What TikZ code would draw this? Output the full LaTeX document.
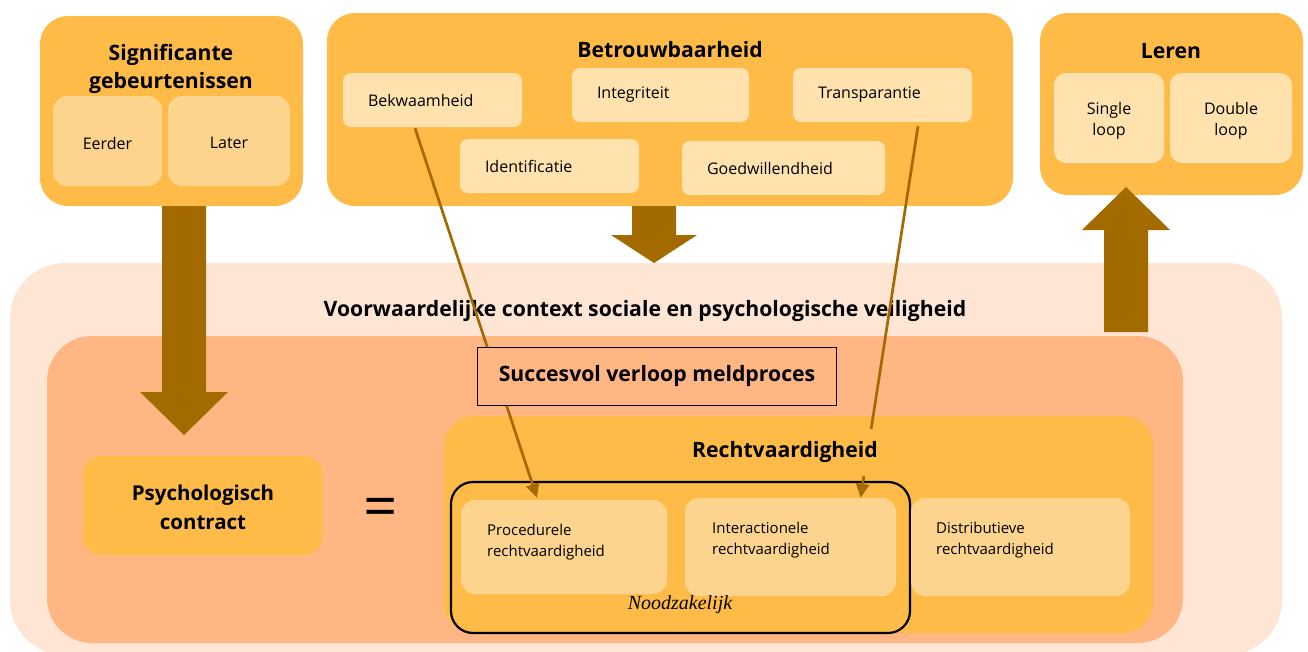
\documentclass[tikz,border=0pt]{standalone}
\usepackage{fontspec}
\setmainfont{Open Sans}
\newfontfamily\serifit{Liberation Serif}
\usetikzlibrary{arrows.meta,calc}
\definecolor{mainor}{HTML}{FEBB48}
\definecolor{subdark}{HTML}{FDD48E}
\definecolor{sublight}{HTML}{FFE2AD}
\definecolor{peach}{HTML}{FFE5D4}
\definecolor{salmon}{HTML}{FFB682}
\definecolor{brownar}{HTML}{A36A00}
\tikzset{
  bigbox/.style={fill=mainor, rounded corners=28pt, inner sep=0pt},
  ttl/.style={font=\fontsize{21.2}{28.5}\selectfont\bfseries, align=center, inner sep=0pt},
  smalltxt/.style={font=\fontsize{16}{21.5}\selectfont, align=center, inner sep=0pt},
  subA/.style={fill=subdark, rounded corners=14pt, inner sep=0pt},
  subB/.style={fill=sublight, rounded corners=12pt, inner sep=0pt},
  subL/.style={fill=sublight, rounded corners=8pt, inner ysep=0pt, inner xsep=25pt, font=\fontsize{16}{21.5}\selectfont, align=left},
  subR/.style={fill=subdark, rounded corners=14pt, inner sep=0pt},
  rtxt/.style={font=\fontsize{15}{20.5}\selectfont, align=left, inner sep=0pt, anchor=west},
  thinar/.style={draw=brownar, line width=2.7pt, -{Triangle[length=14pt,width=13pt]}},
  bigar/.style={fill=brownar},
}
\begin{document}
\begin{tikzpicture}[x=1pt,y=-1pt]
\useasboundingbox[fill=white] (0,0) rectangle (1308,651);

% background layers
\fill[peach, rounded corners=55pt] (10,263) rectangle (1282,655);
\fill[salmon, rounded corners=45pt] (47,336) rectangle (1183,643);

% top boxes
\node[bigbox, minimum width=263pt, minimum height=190pt] (sig) at (171.5,111) {};
\node[ttl] (sigt) at (171,69) {Significante\\gebeurtenissen};
\node[subA, minimum width=109pt, minimum height=90pt] (eerder) at (107.5,141) {};
\node[subA, minimum width=122pt, minimum height=90pt] (later) at (229,141) {};
\node[smalltxt] (eerdert) at (107.5,143) {Eerder};
\node[smalltxt] (latert) at (229,143) {Later};

\node[bigbox, minimum width=686pt, minimum height=193pt] (betr) at (670,109.5) {};
\node[ttl] (betrt) at (670,50) {Betrouwbaarheid};
\node[subL, text width=129pt, minimum height=54pt] (bekw) at (432.5,100) {Bekwaamheid};
\node[subL, text width=127pt, minimum height=54pt] (integ) at (660.5,95) {Integriteit};
\node[subL, text width=129pt, minimum height=54pt] (trans) at (882.5,95) {Transparantie};
\node[subL, text width=129pt, minimum height=54pt] (ident) at (549.5,166) {Identificatie};
\node[subL, text width=153pt, minimum height=54pt] (goedw) at (783.5,168) {Goedwillendheid};

\node[bigbox, minimum width=263pt, minimum height=182pt] (leren) at (1171.5,104) {};
\node[ttl] (lerent) at (1171,51) {Leren};
\node[subB, minimum width=110pt, minimum height=90pt] (single) at (1109,118) {};
\node[subB, minimum width=122pt, minimum height=90pt] (double) at (1231,118) {};
\node[smalltxt] (singlet) at (1109,121) {Single\\loop};
\node[smalltxt] (doublet) at (1231,121) {Double\\loop};

% middle area
\node[ttl] (voorw) at (645,311) {Voorwaardelijke context sociale en psychologische veiligheid};
\node[fill=mainor, rounded corners=18pt, minimum width=239pt, minimum height=99pt, inner sep=0pt] (psych) at (202.5,505.5) {};
\node[font=\fontsize{20.5}{29}\selectfont\bfseries, align=center, inner sep=0pt] (psycht) at (203,507) {Psychologisch\\contract};
\node[font=\fontsize{60}{60}\selectfont, inner sep=0pt] (eq) at (381,513) {=};

\node[bigbox, rounded corners=30pt, minimum width=709pt, minimum height=217pt] (recht) at (798.5,524.5) {};
\draw[black, line width=2.2pt, rounded corners=22pt] (451,482) rectangle (910,633);
\node[subR, minimum width=206pt, minimum height=94pt] (proc) at (564,547) {};
\node[subR, minimum width=211pt, minimum height=98pt] (inter) at (790.5,547) {};
\node[subR, minimum width=219pt, minimum height=98pt] (distr) at (1020.5,547) {};
\node[rtxt] (proct) at (487,542) {Procedurele\\rechtvaardigheid};
\node[rtxt] (intert) at (712,540) {Interactionele\\rechtvaardigheid};
\node[rtxt] (distrt) at (936,540) {Distributieve\\rechtvaardigheid};
\node[font=\serifit\itshape\fontsize{20}{24}\selectfont, inner sep=0pt] (nood) at (680,605) {Noodzakelijk};

% big arrows
\fill[bigar] (162,206) -- (206,206) -- (206,392) -- (228,392) -- (184,435) -- (140,392) -- (162,392) -- cycle;
\fill[bigar] (632,206) -- (676,206) -- (676,235) -- (697,235) -- (654,263) -- (611,235) -- (632,235) -- cycle;
\fill[bigar] (1104,332) -- (1148,332) -- (1148,230) -- (1170,230) -- (1126,187) -- (1082,230) -- (1104,230) -- cycle;

% thin connectors
\draw[thinar] ($(bekw.south)+(-17.5,1)$) -- ($(proc.north)+(-27,-2)$);
\draw[thinar] ($(trans.south)+(35.5,4)$) -- ($(inter.north)+(70,0)$);

% boxes covering the connectors
\node[draw=black, line width=0.8pt, fill=salmon, minimum width=359pt, minimum height=58pt, inner sep=0pt, font=\fontsize{21.2}{28}\selectfont\bfseries] (succ) at (657,376) {Succesvol verloop meldproces};
\node[fill=mainor, font=\fontsize{21.2}{28}\selectfont\bfseries, inner xsep=4pt, minimum height=47pt] (rechtt) at (785,452) {Rechtvaardigheid};
\end{tikzpicture}
\end{document}
